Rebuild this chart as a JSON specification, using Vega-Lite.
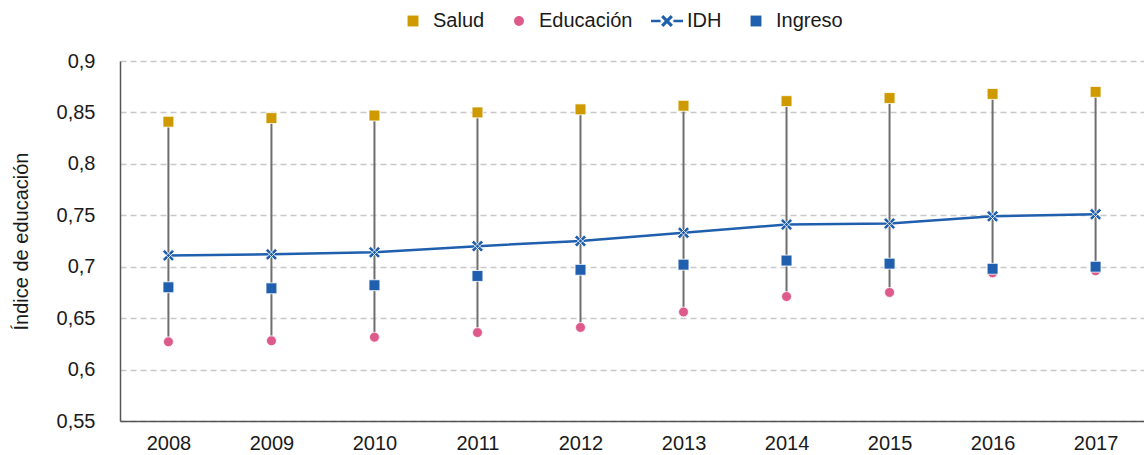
{
  "$schema": "https://vega.github.io/schema/vega-lite/v6.json",
  "width": 1024,
  "height": 360,
  "autosize": {"type": "none"},
  "padding": {"left": 120, "top": 61, "right": 0, "bottom": 34},
  "background": "white",
  "config": {
    "view": {"stroke": null},
    "font": "Liberation Sans"
  },
  "data": {
    "values": [
      {"year": "2008", "Salud": 0.841, "Educación": 0.627, "IDH": 0.711, "Ingreso": 0.680},
      {"year": "2009", "Salud": 0.8445, "Educación": 0.628, "IDH": 0.712, "Ingreso": 0.679},
      {"year": "2010", "Salud": 0.847, "Educación": 0.6315, "IDH": 0.714, "Ingreso": 0.682},
      {"year": "2011", "Salud": 0.850, "Educación": 0.636, "IDH": 0.720, "Ingreso": 0.691},
      {"year": "2012", "Salud": 0.853, "Educación": 0.641, "IDH": 0.725, "Ingreso": 0.697},
      {"year": "2013", "Salud": 0.8565, "Educación": 0.656, "IDH": 0.733, "Ingreso": 0.702},
      {"year": "2014", "Salud": 0.861, "Educación": 0.671, "IDH": 0.741, "Ingreso": 0.706},
      {"year": "2015", "Salud": 0.864, "Educación": 0.675, "IDH": 0.742, "Ingreso": 0.703},
      {"year": "2016", "Salud": 0.868, "Educación": 0.694, "IDH": 0.749, "Ingreso": 0.698},
      {"year": "2017", "Salud": 0.870, "Educación": 0.696, "IDH": 0.751, "Ingreso": 0.700}
    ]
  },
  "encoding": {
    "x": {
      "field": "year",
      "type": "ordinal",
      "scale": {"type": "point", "padding": 0.47},
      "axis": {
        "title": null,
        "labelAngle": 0,
        "labelFontSize": 20,
        "labelColor": "#1a1a1a",
        "labelPadding": 12,
        "ticks": false,
        "grid": false,
        "domainColor": "#555555",
        "domainWidth": 1.5
      }
    }
  },
  "layer": [
    {
      "mark": {"type": "rule", "color": "#6e6e6e", "strokeWidth": 2},
      "encoding": {
        "y": {
          "field": "Salud",
          "type": "quantitative",
          "scale": {"domain": [0.55, 0.9], "nice": false, "zero": false},
          "axis": {
            "title": "Índice de educación",
            "titleFontSize": 20,
            "titleFontWeight": "normal",
            "titleColor": "#1a1a1a",
            "titlePadding": 25,
            "values": [0.55, 0.6, 0.65, 0.7, 0.75, 0.8, 0.85, 0.9],
            "labelExpr": "replace(format(datum.value, '.2~f'), '.', ',')",
            "labelFontSize": 20,
            "labelColor": "#1a1a1a",
            "labelPadding": 25,
            "ticks": false,
            "grid": true,
            "gridColor": "#c8c8c8",
            "gridDash": [6, 4],
            "gridWidth": 1.5,
            "domainColor": "#555555",
            "domainWidth": 1.5
          }
        },
        "y2": {"field": "Educación"}
      }
    },
    {
      "mark": {"type": "line", "color": "#1f5fad", "strokeWidth": 2.5},
      "encoding": {
        "y": {"field": "IDH", "type": "quantitative"}
      }
    },
    {
      "mark": {
        "type": "point",
        "filled": true,
        "size": 1024,
        "opacity": 1,
        "color": "#1f5fad",
        "stroke": "white",
        "strokeWidth": 0.8,
        "shape": "M-0.23,-0.37L0.37,0.23L0.23,0.37L-0.37,-0.23ZM-0.37,0.23L0.23,-0.37L0.37,-0.23L-0.23,0.37Z"
      },
      "encoding": {
        "y": {"field": "IDH", "type": "quantitative"}
      }
    },
    {
      "transform": [
        {"fold": ["Salud", "Educación", "Ingreso"], "as": ["serie", "valor"]}
      ],
      "mark": {"type": "point", "filled": true, "size": 1024, "opacity": 1, "stroke": "white", "strokeWidth": 0.8},
      "encoding": {
        "y": {"field": "valor", "type": "quantitative"},
        "color": {
          "field": "serie",
          "type": "nominal",
          "scale": {
            "domain": ["Salud", "Educación", "IDH", "Ingreso"],
            "range": ["#cf9a00", "#dd5a8a", "#1f5fad", "#1f5fad"]
          },
          "legend": {
            "title": null,
            "orient": "none",
            "direction": "horizontal",
            "legendX": 277,
            "legendY": -56,
            "symbolSize": 1024,
            "symbolStrokeWidth": 0,
            "labelFontSize": 20,
            "labelColor": "#1a1a1a",
            "labelOffset": 4,
            "columnPadding": 18
          }
        },
        "shape": {
          "field": "serie",
          "type": "nominal",
          "scale": {
            "domain": ["Salud", "Educación", "IDH", "Ingreso"],
            "range": [
              "M-0.34,-0.34L0.34,-0.34L0.34,0.34L-0.34,0.34Z",
              "M0.31,0A0.31,0.31,0,1,1,-0.31,0A0.31,0.31,0,1,1,0.31,0Z",
              "M-0.23,-0.37L0.37,0.23L0.23,0.37L-0.37,-0.23ZM-0.37,0.23L0.23,-0.37L0.37,-0.23L-0.23,0.37ZM-1,-0.075L-0.4,-0.075L-0.4,0.075L-1,0.075ZM0.4,-0.075L1,-0.075L1,0.075L0.4,0.075Z",
              "M-0.34,-0.34L0.34,-0.34L0.34,0.34L-0.34,0.34Z"
            ]
          },
          "legend": {
            "title": null,
            "orient": "none",
            "direction": "horizontal",
            "legendX": 277,
            "legendY": -56,
            "symbolSize": 1024,
            "symbolStrokeWidth": 0,
            "labelFontSize": 20,
            "labelColor": "#1a1a1a",
            "labelOffset": 4,
            "columnPadding": 18
          }
        }
      }
    }
  ]
}
